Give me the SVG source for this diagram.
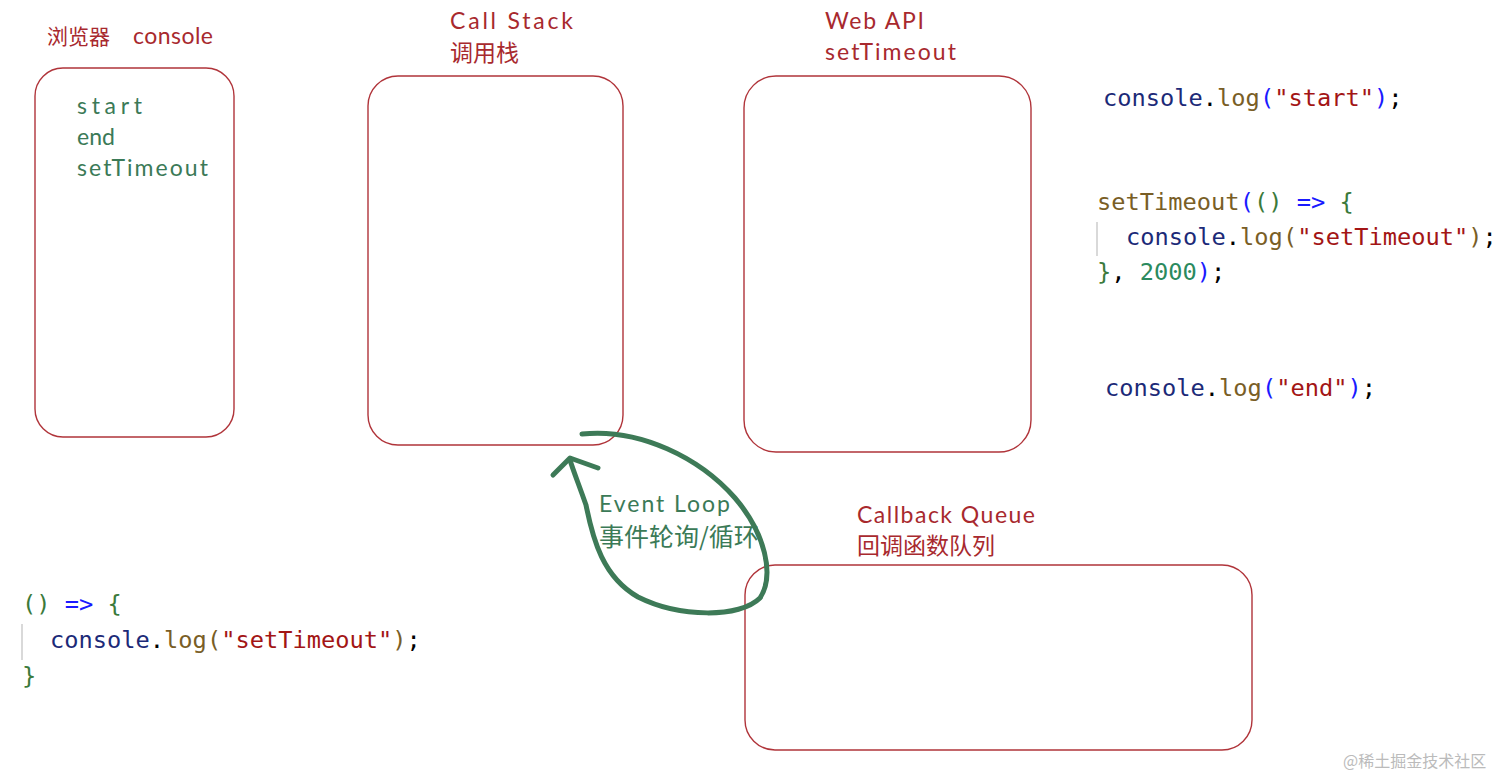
<svg xmlns="http://www.w3.org/2000/svg" width="1509" height="777" viewBox="0 0 1509 777">
<style>
.box{fill:none;stroke:#b0343a;stroke-width:1.4}
.title{font-family:"Lato","Noto Sans CJK SC",sans-serif;font-size:23px;fill:#a8292e}
.cjk{font-family:"Noto Sans CJK SC",sans-serif;font-size:23px;fill:#a8292e}
.gr{font-family:"Lato","Noto Sans CJK SC",sans-serif;font-size:23px;fill:#3b7a57}
.code{font-family:"DejaVu Sans Mono",monospace;font-size:23.7px;fill:#000}
.cn{fill:#1c2a78}.fn{fill:#795e26}.bl{fill:#1a1aff}.st{fill:#a31515}.g{fill:#3b7a3b}.num{fill:#2b8a5e}
.bar{stroke:#ccc;stroke-width:1.5}
</style>
<rect width="1509" height="777" fill="#fff"/>
<g id="console-node">
<rect class="box" x="35" y="68" width="199" height="369" rx="28"/>
<text class="cjk" x="47" y="44" style="font-size:21px">浏览器</text>
<text class="title" x="133" y="44" textLength="80">console</text>
<text class="gr" x="77" y="114" textLength="65">start</text>
<text class="gr" x="77" y="145" textLength="38">end</text>
<text class="gr" x="77" y="176" textLength="131">setTimeout</text>
</g>
<g id="callstack-node">
<rect class="box" x="368" y="76" width="255" height="369" rx="30"/>
<text class="title" x="450" y="29" textLength="123">Call Stack</text>
<text class="cjk" x="450" y="61">调用栈</text>
</g>
<g id="webapi-node">
<rect class="box" x="744" y="76" width="287" height="376" rx="32"/>
<text class="title" x="825" y="29" textLength="99">Web API</text>
<text class="title" x="825" y="60" textLength="131">setTimeout</text>
</g>
<g id="queue-node">
<rect class="box" x="745" y="565" width="507" height="185" rx="30"/>
<text class="title" x="857" y="523" textLength="178">Callback Queue</text>
<text class="cjk" x="857" y="554">回调函数队列</text>
</g>
<g id="connectors">
<path d="M582,434 C640,428 700,458 735,498 C765,533 775,575 760,598 C740,618 680,618 638,597 C603,577 593,540 586,505 C579,485 573,470 570,460" fill="none" stroke="#3d7a57" stroke-width="5" stroke-linecap="round"/>
<path d="M553,475 L570,458 L598,468" fill="none" stroke="#3d7a57" stroke-width="5" stroke-linecap="round" stroke-linejoin="round"/>
</g>
<g id="eventloop-label">
<text class="gr" x="599" y="512" textLength="131">Event Loop</text>
<text class="gr" x="599" y="546" style="font-family:'Noto Sans CJK SC',sans-serif;font-size:25px">事件轮询/循环</text>
</g>
<g id="code-right">
<text class="code" x="1103" y="106"><tspan class="cn">console</tspan>.<tspan class="fn">log</tspan><tspan class="bl">(</tspan><tspan class="st">"start"</tspan><tspan class="bl">)</tspan>;</text>
<text class="code" x="1097" y="210"><tspan class="fn">setTimeout</tspan><tspan class="bl">(</tspan><tspan class="g">()</tspan> <tspan class="bl">=&gt;</tspan> <tspan class="g">{</tspan></text>
<line class="bar" x1="1097" y1="222" x2="1097" y2="256"/>
<text class="code" x="1126" y="245"><tspan class="cn">console</tspan>.<tspan class="fn">log</tspan><tspan class="fn">(</tspan><tspan class="st">"setTimeout"</tspan><tspan class="fn">)</tspan>;</text>
<text class="code" x="1097" y="280"><tspan class="g">}</tspan>, <tspan class="num">2000</tspan><tspan class="bl">)</tspan>;</text>
<text class="code" x="1105" y="396"><tspan class="cn">console</tspan>.<tspan class="fn">log</tspan><tspan class="bl">(</tspan><tspan class="st">"end"</tspan><tspan class="bl">)</tspan>;</text>
</g>
<g id="code-left">
<text class="code" x="22" y="612"><tspan class="g">()</tspan> <tspan class="bl">=&gt;</tspan> <tspan class="g">{</tspan></text>
<line class="bar" x1="22" y1="624" x2="22" y2="660"/>
<text class="code" x="50" y="648"><tspan class="cn">console</tspan>.<tspan class="fn">log</tspan><tspan class="fn">(</tspan><tspan class="st">"setTimeout"</tspan><tspan class="fn">)</tspan>;</text>
<text class="code" x="22" y="684"><tspan class="g">}</tspan></text>
</g>
<text x="1343" y="767" style="font-family:'Noto Sans CJK SC',sans-serif;font-size:16px;fill:#bbb">@稀土掘金技术社区</text>
</svg>
